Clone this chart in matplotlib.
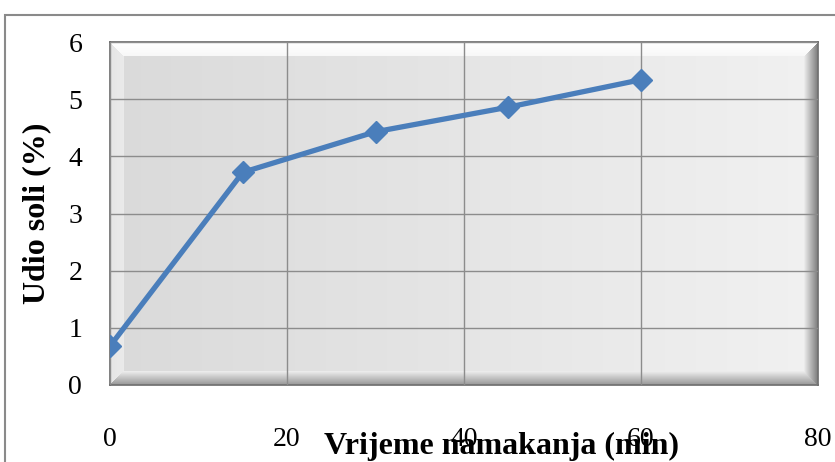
import numpy as np
import matplotlib.pyplot as plt
from matplotlib.patches import Rectangle

# podaci
vrijeme = [0, 15, 30, 45, 60]
udio_soli = [0.68, 3.72, 4.43, 4.86, 5.34]
x_ticks = [0, 20, 40, 60, 80]
y_ticks = [0, 1, 2, 3, 4, 5, 6]

plt.rcParams['font.family'] = ['Liberation Serif', 'DejaVu Serif']

fig = plt.figure(figsize=(8.35, 4.62), dpi=100)
# vanjski okvir
fig.patches.append(Rectangle((5 / 835, -0.1), 1.0, (462 - 15) / 462 + 0.1,
                             transform=fig.transFigure, fill=False,
                             edgecolor='#8a8a8a', linewidth=1.5))

ax = fig.add_axes([110 / 835, 1 - 385 / 462, 708 / 835, 343 / 462])

# pozadina s gradijentom i "bevel" rubom
H, W = 343, 708
yy, xx = np.mgrid[0:H, 0:W]
img = 0.855 + 0.09 * (xx / W)
b = 14
dt, db, dl, dr = yy, H - 1 - yy, xx, W - 1 - xx
dmin = np.minimum(np.minimum(dt, db), np.minimum(dl, dr))
edge = dmin < b
t = dmin / b
top = edge & (dt == dmin)
right = edge & (dr == dmin) & ~top
bottom = edge & (db == dmin) & ~top & ~right
left = edge & (dl == dmin) & ~top & ~right & ~bottom
img = np.where(top, 1.0 - 0.03 * t, img)
img = np.where(left, 0.9 + 0.02 * t, img)
img = np.where(right, 0.5 + 0.45 * t, img)
img = np.where(bottom, 0.6 + 0.35 * t, img)
rgb = np.dstack([img, img, img])
ax.imshow(rgb, extent=(0, 80, 0, 6), aspect='auto', zorder=0, interpolation='bilinear')

ax.set_xlim(0, 80)
ax.set_ylim(0, 6)
ax.set_xticks(x_ticks)
ax.set_yticks(y_ticks)
ax.grid(True, color='#8c8c8c', linewidth=1)
ax.set_axisbelow(False)
for s in ax.spines.values():
    s.set_color('#6a6a6a')
    s.set_linewidth(1.2)

ax.plot(vrijeme, udio_soli, color='#4a7ebb', linewidth=3.8, marker='D',
        markersize=11, markerfacecolor='#4a7ebb', markeredgecolor='#4a7ebb', zorder=5)

ax.tick_params(axis='both', length=0, labelsize=20)
ax.tick_params(axis='x', pad=30)
ax.tick_params(axis='y', pad=20)

ax.set_xlabel('Vrijeme namakanja (min)', fontsize=23, fontweight='bold')
ax.xaxis.set_label_coords(0.553, -0.138)
ax.set_ylabel('Udio soli (%)', fontsize=23, fontweight='bold', labelpad=12)

fig.savefig('out.png', dpi=100)
